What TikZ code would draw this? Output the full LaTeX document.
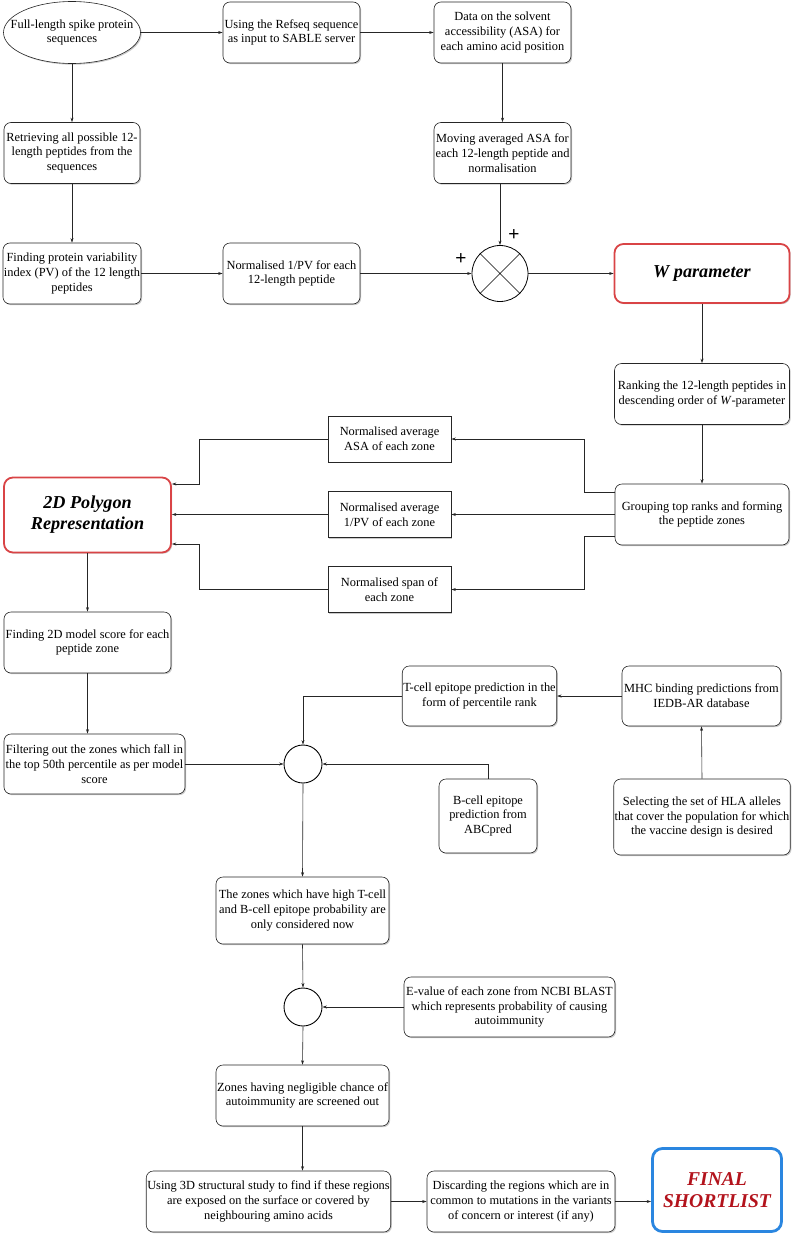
\documentclass[tikz,border=0pt]{standalone}
\usepackage{fontspec}
\setmainfont{Liberation Serif}
\newfontfamily\plusfont{Liberation Sans}
\usetikzlibrary{shapes.geometric,arrows.meta,shadows,calc}
\definecolor{redb}{HTML}{D94446}
\definecolor{blueb}{HTML}{2A86E0}
\definecolor{darkred}{HTML}{B3131C}
\newcommand{\fs}{\fontsize{12.4}{14.8}\selectfont}
\tikzset{
  shad/.style={drop shadow={shadow xshift=1.2pt,shadow yshift=-1.2pt,opacity=0.35,fill=black!60}},
  box/.style={draw=black!85, line width=0.6pt, rounded corners=7pt, fill=white, align=center, font=\fs, inner sep=1pt, shad},
  sbox/.style={draw=black!85, line width=0.6pt, fill=white, align=center, font=\fs, inner sep=1pt, shad},
  keybox/.style={draw=redb, line width=1.8pt, rounded corners=9pt, fill=white, align=center, inner sep=1pt, shad, font=\fontsize{18.2}{21}\selectfont\bfseries\itshape},
  finalbox/.style={draw=blueb, line width=2.8pt, rounded corners=10pt, fill=white, align=center, inner sep=1pt, text=darkred, font=\fontsize{19.6}{22}\selectfont\bfseries\itshape},
  arr/.style={-{Stealth[length=4.5pt,width=3pt]}, line width=0.6pt, draw=black!85},
  jn/.style={circle, draw=black, line width=0.9pt, inner sep=0pt},
  plus/.style={font=\fontsize{19}{19}\selectfont\plusfont, inner sep=0pt},
}
\begin{document}
\begin{tikzpicture}[x=1pt,y=-1pt]
\useasboundingbox (0,0) rectangle (792,1237);
% row 1
\node[ellipse, draw=black!85, line width=0.6pt, fill=white, minimum width=137, minimum height=62, inner sep=0pt, shad] (full) at (72,32.5) {};
\node[align=center, font=\fs] (fulltxt) at (full.center) {Full-length spike protein\\sequences};
\node[box, minimum width=137, minimum height=61] (refseq) at (291.5,32.5) {Using the Refseq sequence\\as input to SABLE server};
\node[box, minimum width=137, minimum height=61] (data) at (502.5,32.5) {Data on the solvent\\accessibility (ASA) for\\each amino acid position};
% row 2
\node[box, minimum width=136, minimum height=61] (retr) at (72,153) {Retrieving all possible 12-\\length peptides from the\\sequences};
\node[box, minimum width=137, minimum height=61] (moving) at (502.5,153) {Moving averaged ASA for\\each 12-length peptide and\\normalisation};
% row 3
\node[box, minimum width=136, minimum height=61] (findpv) at (72,273.5) {Finding protein variability\\index (PV) of the 12 length\\peptides};
\node[box, minimum width=137, minimum height=61] (normpv) at (291.5,273.5) {Normalised 1/PV for each\\12-length peptide};
\node[circle, draw=black, line width=0.8pt, minimum size=56, inner sep=0pt] (mult) at (500,273.5) {};
\draw[line width=0.6pt] (mult.north west) -- (mult.south east) (mult.north east) -- (mult.south west);
\node[plus] (plusl) at (461,259) {+};
\node[plus] (plust) at (514,235) {+};
\node[keybox, minimum width=175, minimum height=59] (wpar) at (702,273.5) {W parameter};
% ranking
\node[box, minimum width=175, minimum height=61] (rank) at (702,394) {Ranking the 12-length peptides in\\descending order of \textit{W}-parameter};
\node[box, minimum width=174, minimum height=61] (group) at (702,514.5) {Grouping top ranks and forming\\the peptide zones};
\node[sbox, minimum width=123, minimum height=46] (asa) at (389.5,439) {Normalised average\\ASA of each zone};
\node[sbox, minimum width=123, minimum height=46] (pv) at (389.5,514.5) {Normalised average\\1/PV of each zone};
\node[sbox, minimum width=123, minimum height=46] (span) at (389.5,589.5) {Normalised span of\\each zone};
\node[keybox, minimum width=167, minimum height=75] (poly) at (87.5,515) {2D Polygon\\Representation};
% lower left
\node[box, minimum width=167, minimum height=61] (find2d) at (87.5,642.5) {Finding 2D model score for each\\peptide zone};
\node[box, minimum width=181, minimum height=60] (filter) at (94.5,764) {Filtering out the zones which fall in\\the top 50th percentile as per model\\score};
\node[jn, minimum width=38, minimum height=34] (j1) at (303,764) {};
\node[box, minimum width=151, minimum height=60] (tcell) at (479.5,696) {T-cell epitope prediction in the\\form of percentile rank};
\node[box, minimum width=159, minimum height=60] (mhc) at (701.5,696) {MHC binding predictions from\\IEDB-AR database};
\node[box, minimum width=175, minimum height=76] (hla) at (702,817) {Selecting the set of HLA alleles\\that cover the population for which\\the vaccine design is desired};
\node[box, minimum width=98, minimum height=74] (bcell) at (488,816) {B-cell epitope\\prediction from\\ABCpred};
\node[box, minimum width=173, minimum height=67] (zones) at (302.5,910.5) {The zones which have high T-cell\\and B-cell epitope probability are\\only considered now};
\node[jn, minimum width=38, minimum height=32] (j2) at (303,1007) {};
\node[box, minimum width=211, minimum height=60] (evalue) at (509.5,1007) {E-value of each zone from NCBI BLAST\\which represents probability of causing\\autoimmunity};
\node[box, minimum width=173, minimum height=61] (neg) at (302.5,1095.5) {Zones having negligible chance of\\autoimmunity are screened out};
\node[box, minimum width=241, minimum height=61] (d3) at (268.5,1201.5) {Using 3D structural study to find if these regions\\are exposed on the surface or covered by\\neighbouring amino acids};
\node[box, minimum width=188, minimum height=61] (disc) at (521,1201.5) {Discarding the regions which are in\\common to mutations in the variants\\of concern or interest (if any)};
\node[finalbox, minimum width=129, minimum height=83] (final) at (717,1190) {FINAL\\SHORTLIST};
% connectors
\draw[arr] (full.east) -- (refseq.west);
\draw[arr] (refseq.east) -- (data.west);
\draw[arr] (full.south) -- (retr.north);
\draw[arr] (retr.south) -- (findpv.north);
\draw[arr] (data.south) -- (moving.north);
\draw[arr] (moving.south -| mult.north) -- (mult.north);
\draw[arr] (findpv.east) -- (normpv.west);
\draw[arr] (normpv.east) -- (mult.west);
\draw[arr] (mult.east) -- (wpar.west);
\draw[arr] (wpar.south) -- (rank.north);
\draw[arr] (rank.south) -- (group.north);
\draw[arr] ([yshift=22pt]group.west) -- ++(-30,0) |- (asa.east);
\draw[arr] (group.west) -- (group.west -| pv.east);
\draw[arr] ([yshift=-22pt]group.west) -- ++(-30,0) |- (span.east);
\draw[arr] (asa.west) -- ++(-128,0) |- ([yshift=31pt]poly.east);
\draw[arr] (pv.west) -- (pv.west -| poly.east);
\draw[arr] (span.west) -- ++(-128,0) |- ([yshift=-29pt]poly.east);
\draw[arr] (poly.south) -- (find2d.north);
\draw[arr] (find2d.south) -- (find2d.south |- filter.north);
\draw[arr] (filter.east) -- (filter.east -| j1.west);
\draw[arr] (tcell.west) -| (j1.north);
\draw[arr] (mhc.west) -- (tcell.east);
\draw[arr] (hla.north) -- (mhc.south);
\draw[arr] (bcell.north) |- (j1.east);
\draw[arr] (j1.south) -- (zones.north);
\draw[arr] (zones.south) -- (j2.north);
\draw[arr] (evalue.west) -- (j2.east);
\draw[arr] (j2.south) -- (neg.north);
\draw[arr] (neg.south) -- (neg.south |- d3.north);
\draw[arr] (d3.east) -- (disc.west);
\draw[arr] (disc.east) -- (disc.east -| final.west);
\end{tikzpicture}
\end{document}
